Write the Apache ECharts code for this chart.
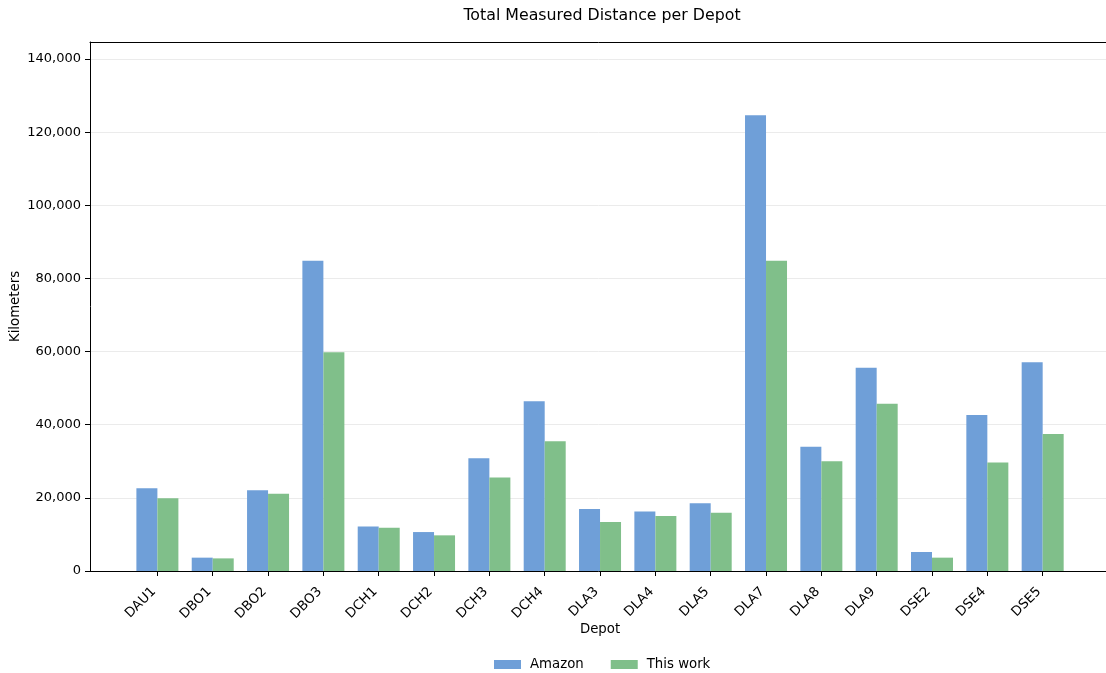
<!DOCTYPE html>
<html>
<head>
<meta charset="utf-8">
<script src="https://cdn.jsdelivr.net/npm/echarts@6/dist/echarts.min.js"></script>
<style>
  html, body { margin: 0; padding: 0; background: #fff; }
  #chart { width: 1106px; height: 673px; }
</style>
</head>
<body>
<div id="chart"></div>
<script>
// Depots along the x axis
const depots = ['DAU1', 'DBO1', 'DBO2', 'DBO3', 'DCH1', 'DCH2', 'DCH3', 'DCH4', 'DLA3',
                'DLA4', 'DLA5', 'DLA7', 'DLA8', 'DLA9', 'DSE2', 'DSE4', 'DSE5'];

// Total measured distance (km) per depot
const amazonKm = [22600, 3650, 22050, 84850, 12200, 10650, 30800, 46400, 16950,
                  16300, 18500, 124600, 34000, 55600, 5200, 42650, 57050];
const thisWorkKm = [19900, 3450, 21150, 59800, 11850, 9750, 25600, 35450, 13400,
                    15050, 15950, 84850, 30000, 45750, 3650, 29700, 37450];

// Y axis ticks
const yTicks = [0, 20000, 40000, 60000, 80000, 100000, 120000, 140000];
const yMax = 144650;

const FONT = 'DejaVu Sans';
const fmt = v => v.toLocaleString('en-US');

const chart = echarts.init(document.getElementById('chart'));

// Frame spans the full axes box (its right edge lies just past the canvas);
// bars sit in an inner grid aligned to the category ticks
const frame = { left: 90, top: 42, width: 1020, height: 529 };
const step = 55.33;
const inner = { left: 90 + 0.718 * step, top: 42, width: 17 * step, height: 529 };

chart.setOption({
  animation: false,
  textStyle: { fontFamily: FONT },
  title: {
    text: 'Total Measured Distance per Depot',
    left: 597, top: 3, textAlign: 'center',
    textStyle: { fontFamily: FONT, fontSize: 15.8, fontWeight: 'normal', color: '#000' }
  },
  legend: {
    data: ['Amazon', 'This work'],
    left: 494, top: 658, padding: 0,
    itemWidth: 27, itemHeight: 9, itemGap: 27,
    icon: 'rect',
    textStyle: { fontFamily: FONT, fontSize: 13.3, color: '#000', padding: [0, 0, 0, 4] }
  },
  grid: [
    Object.assign({ containLabel: false, outerBoundsMode: 'none' }, frame),
    Object.assign({ containLabel: false, outerBoundsMode: 'none' }, inner)
  ],
  xAxis: [
    { // frame bottom spine
      gridIndex: 0, type: 'value', min: 0, max: 1, position: 'bottom',
      axisLine: { show: true, lineStyle: { color: '#000', width: 1 } },
      axisTick: { show: false }, axisLabel: { show: false }, splitLine: { show: false },
      name: 'Depot', nameLocation: 'middle', nameGap: 52, nameMoveOverlap: false,
      nameTextStyle: { fontFamily: FONT, fontSize: 13.3, color: '#000' }
    },
    { // frame top spine
      gridIndex: 0, type: 'value', min: 0, max: 1, position: 'top',
      axisLine: { show: true, lineStyle: { color: '#000', width: 1 } },
      axisTick: { show: false }, axisLabel: { show: false }, splitLine: { show: false }
    },
    { // depot categories
      gridIndex: 1, type: 'category', data: depots, position: 'bottom',
      axisLine: { show: false },
      axisTick: { show: true, alignWithLabel: true, length: 5, lineStyle: { color: '#000' } },
      axisLabel: {
        rotate: 45, margin: 15, interval: 0, padding: [0, 5, 0, 0],
        fontFamily: FONT, fontSize: 13.3, color: '#000'
      },
      splitLine: { show: false }
    }
  ],
  yAxis: [
    {
      gridIndex: 0, type: 'value', min: 0, max: yMax,
      axisLine: { show: true, lineStyle: { color: '#000', width: 1 } },
      axisTick: { show: true, length: 5, lineStyle: { color: '#000' }, customValues: yTicks },
      axisLabel: {
        customValues: yTicks, margin: 9, formatter: v => fmt(v),
        fontFamily: FONT, fontSize: 13, color: '#000'
      },
      splitLine: { show: true, lineStyle: { color: '#ebebeb', width: 1 } },
      name: 'Kilometers', nameLocation: 'middle', nameGap: 68, nameRotate: 90,
      nameMoveOverlap: false,
      nameTextStyle: { fontFamily: FONT, fontSize: 13.3, color: '#000' }
    },
    {
      gridIndex: 1, type: 'value', min: 0, max: yMax, show: false,
      splitLine: { show: false }
    }
  ],
  series: [
    {
      name: 'Amazon', type: 'bar', xAxisIndex: 2, yAxisIndex: 1,
      data: amazonKm, barWidth: 21, barGap: '0%',
      itemStyle: { color: '#6f9fd8' }
    },
    {
      name: 'This work', type: 'bar', xAxisIndex: 2, yAxisIndex: 1,
      data: thisWorkKm, barWidth: 21, barGap: '0%',
      itemStyle: { color: '#80bf8a' }
    }
  ]
});
</script>
</body>
</html>
